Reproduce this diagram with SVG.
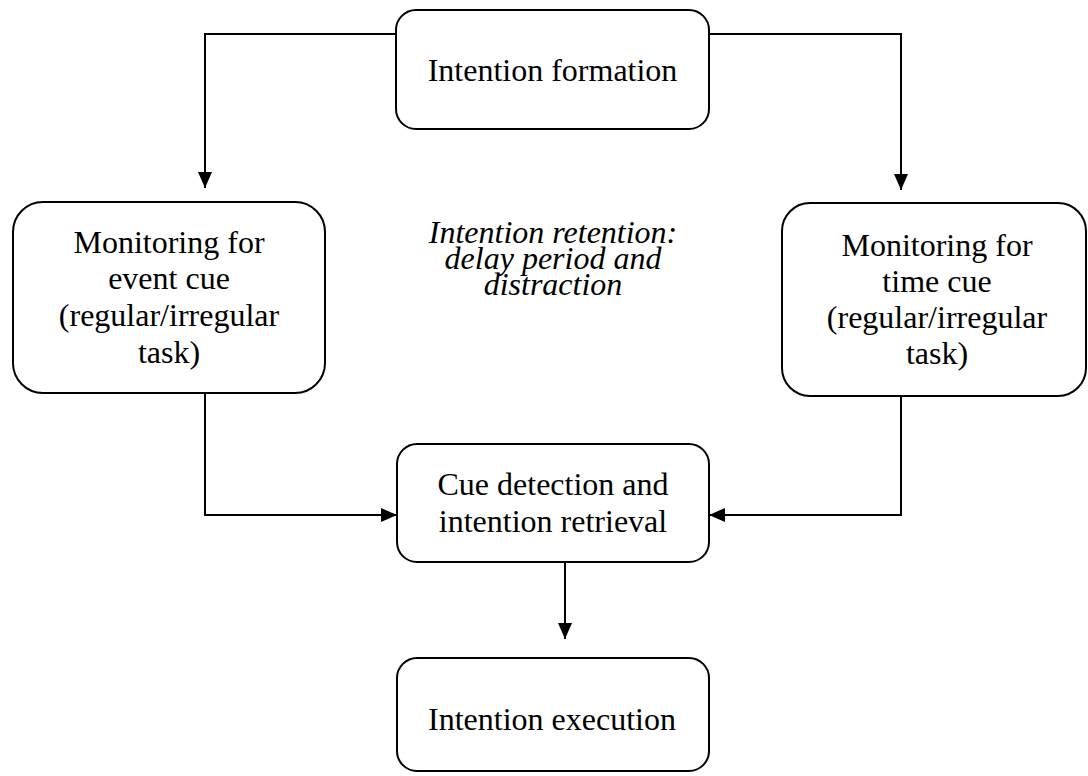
<svg xmlns="http://www.w3.org/2000/svg" width="1088" height="776" viewBox="0 0 1088 776">
<style>
.box{fill:#fff;stroke:#000;stroke-width:2}
.t{font-family:"Liberation Serif","Times New Roman",serif;font-size:32px;fill:#000;text-anchor:middle}
.it{font-style:italic}
.con{fill:none;stroke:#000;stroke-width:2;marker-end:url(#ah)}
</style>
<defs>
<marker id="ah" markerUnits="userSpaceOnUse" markerWidth="16" markerHeight="14" refX="16" refY="7" orient="auto">
<path d="M0,0 L16,7 L0,14 Z" fill="#000"/>
</marker>
</defs>
<rect width="1088" height="776" fill="#fff"/>
<g id="connectors">
<path class="con" d="M396,34 H205 V188"/>
<path class="con" d="M709,34 H901 V190"/>
<path class="con" d="M205,393 V515 H397"/>
<path class="con" d="M901,396 V515 H709"/>
<path class="con" d="M565,562 V639"/>
</g>
<g id="formation">
<rect class="box" x="396" y="10" width="313" height="119" rx="20"/>
<text class="t" x="552.5" y="81">Intention formation</text>
</g>
<g id="event">
<rect class="box" x="13" y="202" width="312" height="191" rx="30"/>
<text class="t" x="169" y="253">Monitoring for</text>
<text class="t" x="169" y="289">event cue</text>
<text class="t" x="169" y="326">(regular/irregular</text>
<text class="t" x="169" y="363">task)</text>
</g>
<g id="retention">
<text class="t it" x="553" y="243">Intention retention:</text>
<text class="t it" x="553" y="269">delay period and</text>
<text class="t it" x="553" y="295">distraction</text>
</g>
<g id="time">
<rect class="box" x="782" y="203" width="304" height="193" rx="28"/>
<text class="t" x="937" y="256">Monitoring for</text>
<text class="t" x="937" y="292">time cue</text>
<text class="t" x="937" y="328">(regular/irregular</text>
<text class="t" x="937" y="364">task)</text>
</g>
<g id="cue">
<rect class="box" x="397" y="444" width="312" height="118" rx="20"/>
<text class="t" x="553" y="495">Cue detection and</text>
<text class="t" x="553" y="532">intention retrieval</text>
</g>
<g id="execution">
<rect class="box" x="397" y="658" width="312" height="113" rx="20"/>
<text class="t" x="552" y="730">Intention execution</text>
</g>
</svg>
